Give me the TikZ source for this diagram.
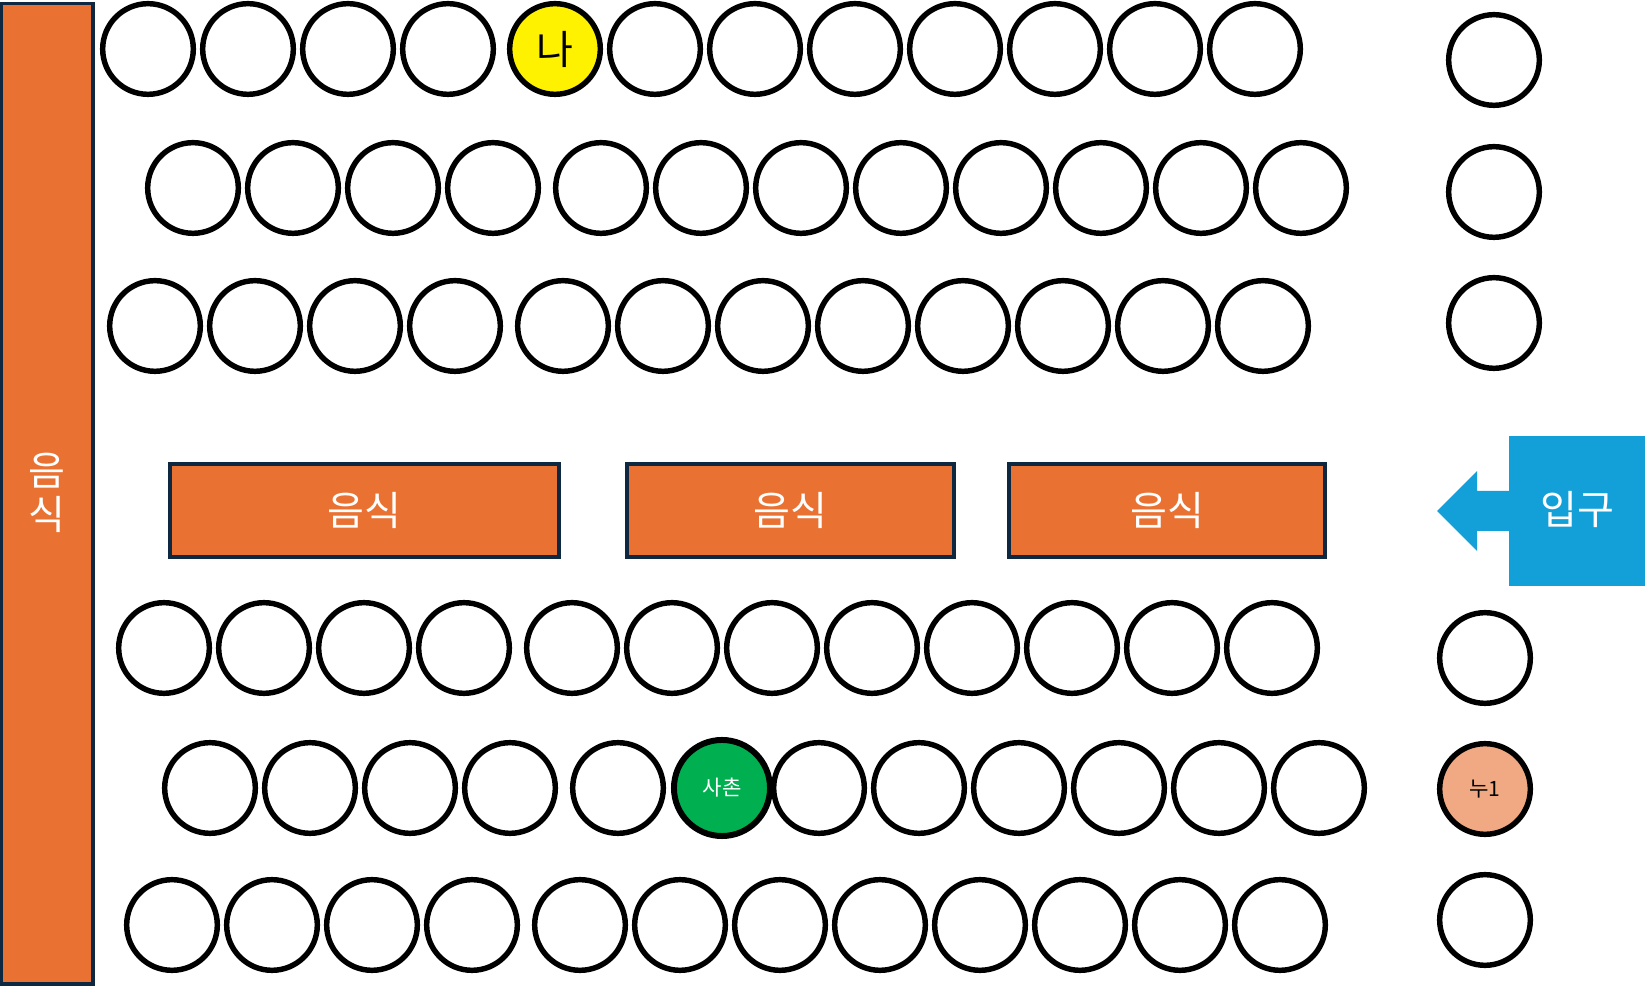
\documentclass[tikz,border=0pt]{standalone}
\usepackage{fontspec}
\newfontfamily\kr{Noto Sans CJK KR}
\definecolor{foodorange}{HTML}{E97132}
\definecolor{navy}{HTML}{0E2841}
\definecolor{entblue}{HTML}{139FD7}
\definecolor{peach}{HTML}{F1A983}
\definecolor{cousin}{HTML}{00B050}
\tikzset{
  seat/.style={circle, draw=black, line width=1.55pt, minimum size=0.906cm,
    inner sep=0pt, fill=white, font=\kr\fontsize{6}{7}\selectfont},
  food/.style={draw=navy, line width=0.9pt, fill=foodorange},
  foodlabel/.style={text=white, font=\kr\fontsize{11.4}{12.5}\selectfont, align=center}
}
\begin{document}
\begin{tikzpicture}[x=0.01cm, y=-0.01cm]
  \useasboundingbox (0,0) rectangle (1645,986);
  % food along the wall and in the middle
  \draw[food] (1.5,3.5) rectangle (93,984);
  \node[foodlabel] (wallfood) at (47,493) {음\\식};
  \draw[food] (170,464) rectangle (559,557);
  \draw[food] (627,464) rectangle (954,557);
  \draw[food] (1009,464) rectangle (1325,557);
  \node[foodlabel] (food1) at (364.5,510) {음식};
  \node[foodlabel] (food2) at (790.5,510) {음식};
  \node[foodlabel] (food3) at (1167,510) {음식};
  % entrance
  \fill[entblue] (1509,436) rectangle (1645,586);
  \fill[entblue] (1437,511) -- (1477,471) -- (1477,491) -- (1510,491)
    -- (1510,531) -- (1477,531) -- (1477,551) -- cycle;
  \node[foodlabel] (entrance) at (1577,510) {입구};
  % seats, upper block
  \foreach \k in {0,...,3} \node[seat] (a\k) at ({148+100*\k},49) {};
  \node[seat, fill=yellow, font=\kr\fontsize{11.4}{12.5}\selectfont] (me) at (555,49) {나};
  \foreach \k in {1,...,7} \node[seat] (a\k') at ({555+100*\k},49) {};
  \foreach \k in {0,...,3} \node[seat] (b\k) at ({193+100*\k},188) {};
  \foreach \k in {0,...,7} \node[seat] (b\k') at ({601+100*\k},188) {};
  \foreach \k in {0,...,3} \node[seat] (c\k) at ({155+100*\k},326) {};
  \foreach \k in {0,...,7} \node[seat] (c\k') at ({563+100*\k},326) {};
  % seats, lower block
  \foreach \k in {0,...,3} \node[seat] (d\k) at ({164+100*\k},648) {};
  \foreach \k in {0,...,7} \node[seat] (d\k') at ({572+100*\k},648) {};
  \foreach \k in {0,...,3} \node[seat] (e\k) at ({210+100*\k},788) {};
  \node[seat] (e4) at (618,788) {};
  \foreach \k in {0,...,5} \node[seat] (e\k') at ({819+100*\k},788) {};
  \node[seat, fill=cousin, text=white, line width=1.7pt, minimum size=0.96cm] (cousin) at (722,788) {사촌};
  \foreach \k in {0,...,3} \node[seat] (f\k) at ({172+100*\k},925) {};
  \foreach \k in {0,...,7} \node[seat] (f\k') at ({580+100*\k},925) {};
  % seats by the entrance
  \foreach \y [count=\i] in {60,192,323} \node[seat] (r\i) at (1494,\y) {};
  \node[seat] (q1) at (1485,658) {};
  \node[seat, fill=peach] (sister) at (1485,789) {누1};
  \node[seat] (q3) at (1485,920) {};
\end{tikzpicture}
\end{document}
